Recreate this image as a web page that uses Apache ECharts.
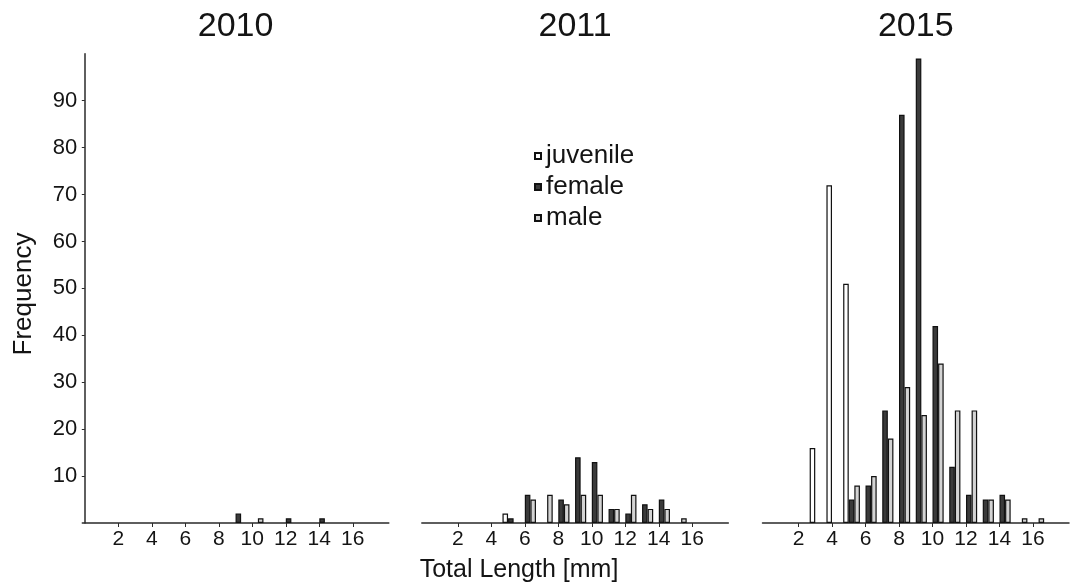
<!DOCTYPE html>
<html>
<head>
<meta charset="utf-8">
<script src="https://cdn.jsdelivr.net/npm/echarts@6/dist/echarts.min.js"></script>
<style>
  html, body { margin: 0; padding: 0; background: #ffffff; }
  #chart { width: 1073px; height: 588px; }
</style>
</head>
<body>
<div id="chart"></div>
<script>
// Size classes (total length, mm)
const sizeClasses = [1, 2, 3, 4, 5, 6, 7, 8, 9, 10, 11, 12, 13, 14, 15, 16, 17];

const years = ['2010', '2011', '2015'];

// Frequencies per size class, one array per year and stage
const juvenile2010 = [0, 0, 0, 0, 0, 0, 0, 0, 0, 0, 0, 0, 0, 0, 0, 0, 0];
const female2010   = [0, 0, 0, 0, 0, 0, 0, 0, 2, 0, 0, 1, 0, 1, 0, 0, 0];
const male2010     = [0, 0, 0, 0, 0, 0, 0, 0, 0, 1, 0, 0, 0, 0, 0, 0, 0];

const juvenile2011 = [0, 0, 0, 0, 2, 0, 0, 0, 0, 0, 0, 0, 0, 0, 0, 0, 0];
const female2011   = [0, 0, 0, 0, 1, 6, 0, 5, 14, 13, 3, 2, 4, 5, 0, 0, 0];
const male2011     = [0, 0, 0, 0, 0, 5, 6, 4, 6, 6, 3, 6, 3, 3, 1, 0, 0];

const juvenile2015 = [0, 0, 16, 72, 51, 0, 0, 0, 0, 0, 0, 0, 0, 0, 0, 0, 0];
const female2015   = [0, 0, 0, 0, 5, 8, 24, 87, 99, 42, 12, 6, 5, 6, 0, 0, 0];
const male2015     = [0, 0, 0, 0, 8, 10, 18, 29, 23, 34, 24, 24, 5, 5, 1, 1, 0];

const stageNames = ['juvenile', 'female', 'male'];

// Tick labels
const xTickValues = [2, 4, 6, 8, 10, 12, 14, 16];
const yTickValues = [10, 20, 30, 40, 50, 60, 70, 80, 90];

const panels = [
  [juvenile2010, female2010, male2010],
  [juvenile2011, female2011, male2011],
  [juvenile2015, female2015, male2015]
];

const FONT = '"Liberation Sans", Arial, Helvetica, sans-serif';
const INK = '#141414';
const AXIS = '#2a2a2a';

const stageStyle = {
  juvenile: { color: '#ffffff', borderColor: '#111111', borderWidth: 1.2 },
  female:   { color: '#3a3a3a', borderColor: '#111111', borderWidth: 1.2 },
  male:     { color: '#d3d3d3', borderColor: '#111111', borderWidth: 1.2 }
};

// Plot areas in pixels
const gridLeft = [82.3, 421.8, 762.5];
const gridWidth = 306.5;
const gridTop = 53.8;
const gridHeight = 469.2;

const grids = gridLeft.map(l => ({
  left: l, top: gridTop, width: gridWidth, height: gridHeight,
  containLabel: false, outerBoundsMode: 'none'
}));

const xAxes = gridLeft.map((_, i) => ({
  gridIndex: i,
  type: 'value',
  min: -0.15,
  max: 18.15,
  axisLine: { show: true, onZero: false, lineStyle: { color: AXIS, width: 1.5 } },
  axisTick: { show: true, customValues: xTickValues, length: 4, lineStyle: { color: AXIS, width: 1 } },
  axisLabel: { customValues: xTickValues, fontSize: 21, color: INK, fontFamily: FONT, margin: 6 },
  splitLine: { show: false }
}));

const yAxes = gridLeft.map((_, i) => ({
  gridIndex: i,
  type: 'value',
  min: 0,
  max: 100,
  show: i === 0,
  axisLine: { show: true, lineStyle: { color: AXIS, width: 1.5 } },
  axisTick: { show: true, customValues: yTickValues, length: 3, lineStyle: { color: AXIS, width: 1 } },
  axisLabel: { customValues: yTickValues, fontSize: 22, color: INK, fontFamily: FONT, margin: 5 },
  splitLine: { show: false }
}));

// Each size class holds four slots: an empty leading slot, then juvenile,
// female and male, so the female bar starts right at the class tick.
const series = [];
panels.forEach((stages, p) => {
  series.push({
    type: 'bar', name: 'lead', xAxisIndex: p, yAxisIndex: p,
    barWidth: '33.333%', barGap: '0%', data: [], silent: true
  });
  stages.forEach((values, s) => {
    const name = stageNames[s];
    series.push({
      type: 'bar',
      name: name,
      xAxisIndex: p,
      yAxisIndex: p,
      barWidth: '33.333%',
      barGap: '0%',
      itemStyle: stageStyle[name],
      data: sizeClasses.map((c, k) => [c, values[k] === 0 ? '-' : values[k]])
    });
  });
});

const gridCenters = gridLeft.map(l => l + gridWidth / 2);

const option = {
  animation: false,
  backgroundColor: '#ffffff',
  textStyle: { fontFamily: FONT },
  title: years.map((y, i) => ({
    text: y,
    left: gridCenters[i],
    top: 10,
    textAlign: 'center',
    padding: 0,
    textStyle: { fontSize: 34, fontWeight: 'normal', color: INK, fontFamily: FONT }
  })),
  legend: {
    data: stageNames,
    orient: 'vertical',
    left: 534,
    top: 143,
    icon: 'rect',
    itemWidth: 6,
    itemHeight: 6,
    itemGap: 5,
    padding: 0,
    textStyle: { fontSize: 26, lineHeight: 26, color: INK, fontFamily: FONT },
    selectedMode: false
  },
  grid: grids,
  xAxis: xAxes,
  yAxis: yAxes,
  series: series,
  graphic: [
    {
      type: 'text',
      x: 24, y: 294,
      rotation: Math.PI / 2,
      style: { text: 'Frequency', fontSize: 26, fontFamily: FONT, fill: INK, align: 'center', verticalAlign: 'middle' }
    },
    {
      type: 'text',
      x: 519, y: 570,
      style: { text: 'Total Length [mm]', fontSize: 25, fontFamily: FONT, fill: INK, align: 'center', verticalAlign: 'middle' }
    }
  ]
};

const chart = echarts.init(document.getElementById('chart'), null, { renderer: 'canvas' });
chart.setOption(option);
</script>
</body>
</html>
